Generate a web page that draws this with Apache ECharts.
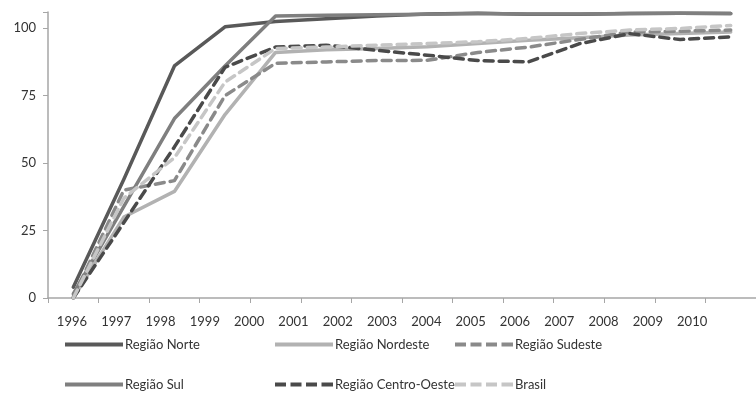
<!DOCTYPE html>
<html>
<head>
<meta charset="utf-8">
<script src="https://cdn.jsdelivr.net/npm/echarts@6/dist/echarts.min.js"></script>
<style>html,body{margin:0;padding:0;background:#fff}#c{width:756px;height:404px}</style>
</head>
<body>
<div id="c"></div>
<script>
// data points (14 plotted positions)
var pointCategories = ['1996','1997','1998','1999','2000','2001','2002','2003','2004','2005','2006','2007','2008','2009'];
// tick labels shown under the axis
var tickLabels = ['1996','1997','1998','1999','2000','2001','2002','2003','2004','2005','2006','2007','2008','2009','2010'];
var seriesNames = ['Região Norte','Região Nordeste','Região Sudeste','Região Sul','Região Centro-Oeste','Brasil'];
var norte      = [4, 44, 86, 100.5, 102.5, 103.5, 104.5, 105.3, 105.5, 105.2, 105.2, 105.4, 105.5, 105.4];
var nordeste   = [0, 30, 39.5, 68, 91, 92, 92.5, 93.1, 94.3, 95.5, 96.5, 97.5, 98, 98.6];
var sudeste    = [0.5, 40, 43.5, 75, 87, 87.5, 88, 88.1, 91, 93, 95.8, 98.6, 98.9, 99.3];
var sul        = [1.5, 34, 66.5, 86, 104.5, 104.8, 105, 105.2, 105.4, 105.3, 105.3, 105.4, 105.5, 105.4];
var centroOeste= [0, 28, 56, 85.5, 93, 93.7, 91.8, 90, 88, 87.5, 94.2, 98, 95.8, 96.8];
var brasil     = [0, 37, 52, 80, 92.5, 93, 93.7, 94.3, 95, 96.2, 98, 99.3, 99.9, 101];
var yTicks = [0, 25, 50, 75, 100];

var styles = [
  {color:'#595959', type:'solid'},
  {color:'#b2b2b2', type:'solid'},
  {color:'#8a8a8a', type:[9,6]},
  {color:'#7f7f7f', type:'solid'},
  {color:'#4a4a4a', type:[9,6]},
  {color:'#c6c6c6', type:[9,6]}
];
var values = [norte, nordeste, sudeste, sul, centroOeste, brasil];
var font = 'Lato, "Open Sans", sans-serif';
var solidIcon = 'path://M0,0h58v4h-58z';
var dashIcon = 'path://M0,0h11v4h-11z M15.5,0h11v4h-11z M31,0h11v4h-11z M46.5,0h11.5v4h-11.5z';

var series = seriesNames.map(function(n,i){
  return {
    name:n, type:'line', data:values[i], xAxisIndex:0, yAxisIndex:0,
    symbol:'none', smooth:false, animation:false,
    lineStyle:{color:styles[i].color, width:3.5, type:styles[i].type, cap:'round', join:'round'},
    itemStyle:{color:styles[i].color}
  };
});

var legendPos = [
  {left:60, top:333}, {left:270, top:333}, {left:450, top:333},
  {left:60, top:373}, {left:270, top:373}, {left:450, top:373}
];
var legends = seriesNames.map(function(n,i){
  return {
    data:[{name:n, icon: styles[i].type === 'solid' ? solidIcon : dashIcon}],
    left:legendPos[i].left, top:legendPos[i].top,
    itemWidth:58, itemHeight:4, itemGap:0,
    itemStyle:{color:styles[i].color, borderWidth:0},
    textStyle:{fontFamily:font, fontSize:13, color:'#333', padding:[0,0,0,-3]}
  };
});

var chart = echarts.init(document.getElementById('c'), null, {renderer:'canvas'});
chart.setOption({
  backgroundColor:'#fff',
  animation:false,
  legend: legends,
  grid:[
    {left:48, top:12, width:710, height:286},
    {left:49.8, top:12, width:664.5, height:286}
  ],
  xAxis:[
    {type:'category', gridIndex:0, data:pointCategories, boundaryGap:true,
     axisLine:{lineStyle:{color:'#a6a6a6', width:1.5}},
     axisTick:{show:true, length:5, lineStyle:{color:'#a6a6a6'}},
     axisLabel:{show:false}, splitLine:{show:false}},
    {type:'category', gridIndex:1, data:tickLabels, boundaryGap:true,
     axisLine:{show:false}, axisTick:{show:false},
     axisLabel:{show:true, margin:17, fontFamily:font, fontSize:13, color:'#333', interval:0},
     splitLine:{show:false}}
  ],
  yAxis:[
    {type:'value', gridIndex:0, min:0, max:106, interval:25,
     axisLine:{show:true, lineStyle:{color:'#a6a6a6', width:1.5}},
     axisTick:{show:true, length:5, lineStyle:{color:'#a6a6a6'}},
     axisLabel:{fontFamily:font, fontSize:13, color:'#333', margin:12,
       formatter:function(v){ return yTicks.indexOf(v) >= 0 ? String(v) : ''; }},
     splitLine:{show:false}},
    {type:'value', gridIndex:1, min:0, max:106, show:false}
  ],
  series: series
});
</script>
</body>
</html>
